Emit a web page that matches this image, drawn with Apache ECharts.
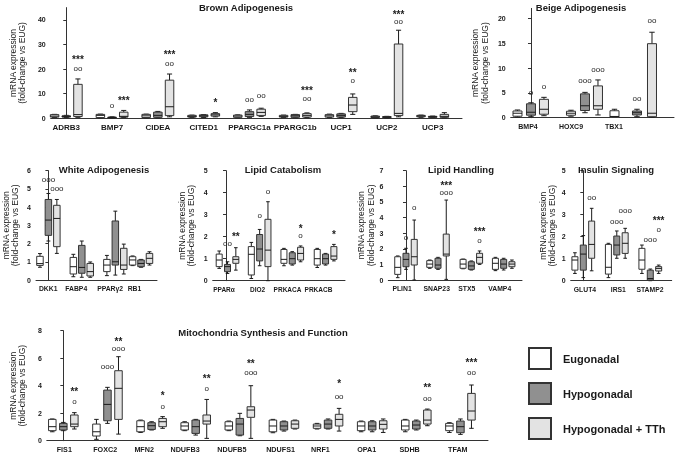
<!DOCTYPE html>
<html><head><meta charset="utf-8">
<script src="https://cdn.jsdelivr.net/npm/echarts@6/dist/echarts.min.js"></script>
<style>html,body{margin:0;padding:0;background:#fff}#c{width:676px;height:453px;filter:grayscale(100%)}</style>
</head><body><div id="c"></div>
<script>
// ---------------- DATA: [min, Q1, median, Q3, max] ----------------
const groupNames = ['Eugonadal', 'Hypogonadal', 'Hypogonadal + TTh'];

const brownCats = ['ADRB3','BMP7','CIDEA','CITED1','PPARGC1a','PPARGC1b','UCP1','UCP2','UCP3'];
const brownTicks = [0,10,20,30,40];
const brownEU = [[0.3,0.5,0.9,1.5,1.6],[0.2,0.3,1.2,1.6,1.7],[0.2,0.3,1.0,1.6,1.7],[0.3,0.5,0.8,1.2,1.3],[0.2,0.4,0.9,1.3,1.4],[0.3,0.5,0.8,1.2,1.3],[0.3,0.5,1.0,1.5,1.7],[0.2,0.3,0.6,0.9,1.0],[0.4,0.6,0.9,1.2,1.3]];
const brownHY = [[0.3,0.5,0.8,1.0,1.2],[0.1,0.2,0.3,0.5,0.6],[0.2,0.4,1.2,2.5,2.8],[0.3,0.6,1.0,1.4,1.5],[0.4,0.7,1.6,2.7,3.4],[0.2,0.4,1.0,1.5,1.6],[0.3,0.5,1.2,1.8,2.0],[0.2,0.3,0.5,0.7,0.8],[0.3,0.4,0.6,0.8,0.9]];
const brownTT = [[0.4,0.7,1.5,13.8,16.0],[0.3,0.5,0.8,2.5,3.2],[0.6,1.1,4.7,15.5,18.0],[0.6,0.9,1.4,1.9,2.3],[0.8,1.1,2.4,3.7,4.1],[0.3,0.5,1.2,1.9,2.2],[1.6,2.7,5.4,8.5,9.9],[0.6,1.1,2.0,30.2,35.8],[0.2,0.4,0.8,1.6,2.3]];
// [category, group, value, text]
const brownMarks = [[0,2,20,'oo'],[0,2,24.8,'***'],[1,1,5.0,'o'],[1,2,8.0,'***'],[2,2,22.1,'oo'],[2,2,26.7,'***'],[3,2,7.4,'*'],[4,1,7.4,'oo'],[4,2,9.2,'oo'],[5,2,8.0,'oo'],[5,2,12.2,'***'],[6,2,15.2,'o'],[6,2,19.4,'**'],[7,2,39.3,'oo'],[7,2,43.1,'***']];

const beigeCats = ['BMP4','HOXC9','TBX1'];
const beigeTicks = [0,5,10,15,20];
const beigeEU = [[0.15,0.3,0.9,1.35,1.55],[0.3,0.5,0.9,1.3,1.5],[0.05,0.1,0.25,1.4,1.7]];
const beigeHY = [[0.2,0.5,1.1,2.8,3.0],[1.0,1.45,2.4,4.8,5.1],[0.2,0.55,1.0,1.35,1.7]];
const beigeTT = [[0.4,0.7,1.7,3.7,4.1],[0.55,1.7,2.4,6.4,7.6],[0.1,0.2,0.9,14.9,17.2]];
const beigeMarks = [[0,1,5.0,'o'],[0,2,6.2,'o'],[1,1,7.4,'ooo'],[1,2,9.7,'ooo'],[2,1,3.8,'oo'],[2,2,19.4,'oo']];

const whiteCats = ['DKK1','FABP4','PPARγ2','RB1'];
const whiteTicks = [0,1,2,3,4,5,6];
const whiteEU = [[0.7,0.8,0.9,1.3,1.45],[0.18,0.33,0.73,1.24,1.41],[0.24,0.46,0.82,1.13,1.35],[0.79,0.82,1.1,1.28,1.32]];
const whiteHY = [[2.14,2.45,3.29,4.42,4.75],[0.15,0.37,0.69,1.9,2.14],[0.27,0.82,1.0,3.24,3.78],[0.7,0.73,0.91,1.1,1.13]];
const whiteTT = [[1.46,1.83,3.38,4.1,4.42],[0.15,0.22,0.46,0.91,0.99],[0.33,0.58,0.82,1.74,1.97],[0.82,0.91,1.19,1.46,1.55]];
const whiteMarks = [[0,1,5.5,'ooo'],[0,2,5.0,'ooo']];

const catabCats = ['PPARα','DIO2','PRKACA','PRKACB'];
const catabTicks = [0,1,2,3,4,5];
const catabEU = [[0.56,0.64,0.94,1.21,1.35],[0.1,0.26,1.2,1.55,1.74],[0.68,0.79,0.97,1.42,1.47],[0.6,0.71,1.0,1.42,1.47]];
const catabHY = [[0.33,0.41,0.64,0.74,0.86],[0.68,0.9,1.44,2.1,2.33],[0.71,0.76,1.0,1.27,1.32],[0.71,0.76,1.0,1.21,1.24]];
const catabTT = [[0.48,0.79,0.97,1.09,1.5],[0,0.64,1.39,2.79,3.59],[0.86,0.94,1.24,1.52,1.58],[0.9,0.97,1.12,1.55,1.65]];
const catabMarks = [[0,1,1.65,'oo'],[0,2,2.1,'**'],[1,1,2.94,'o'],[1,2,4.05,'o'],[2,2,2.03,'o'],[2,2,2.48,'*'],[3,2,2.18,'*']];

const handCats = ['PLIN1','SNAP23','STX5','VAMP4'];
const handTicks = [0,1,2,3,4,5,6,7];
const handEU = [[0.15,0.36,0.81,1.49,1.54],[0.75,0.81,1.02,1.24,1.28],[0.72,0.75,1.02,1.32,1.34],[0.6,0.68,1.07,1.39,1.45]];
const handHY = [[0.68,0.85,1.32,1.71,2.03],[0.68,0.75,0.96,1.39,1.45],[0.64,0.68,0.9,1.17,1.22],[0.64,0.75,1.02,1.32,1.39]];
const handTT = [[0,0.96,1.49,2.6,3.84],[0.04,1.54,1.66,2.94,5.12],[1.0,1.07,1.45,1.71,1.86],[0.75,0.85,1.02,1.17,1.28]];
const handMarks = [[0,1,2.67,'o'],[0,2,4.58,'o'],[1,2,5.59,'ooo'],[1,2,6.18,'***'],[2,2,2.52,'o'],[2,2,3.24,'***']];

const insCats = ['GLUT4','IRS1','STAMP2'];
const insTicks = [0,1,2,3,4,5];
const insEU = [[0.33,0.48,0.94,1.09,1.27],[0.14,0.3,0.61,1.65,1.7],[0.33,0.52,0.94,1.47,1.62]];
const insHY = [[0.14,0.48,1.21,1.62,2.05],[1.02,1.17,1.62,2.03,2.26],[0,0.03,0.1,0.48,0.53]];
const insTT = [[0.45,1.02,1.65,2.71,3.29],[1.02,1.24,1.7,2.18,2.38],[0.33,0.44,0.56,0.64,0.71]];
const insMarks = [[0,2,3.77,'oo'],[1,1,2.68,'ooo'],[1,2,3.17,'ooo'],[2,1,1.85,'ooo'],[2,2,2.3,'o'],[2,2,2.83,'***']];

const mitoCats = ['FIS1','FOXC2','MFN2','NDUFB3','NDUFB5','NDUFS1','NRF1','OPA1','SDHB','TFAM'];
const mitoTicks = [0,2,4,6,8];
const mitoEU = [[0.65,0.73,1.02,1.55,1.58],[0.1,0.34,0.65,1.21,1.55],[0.6,0.65,1.02,1.45,1.5],[0.73,0.78,1.07,1.31,1.38],[0.73,0.78,1.07,1.38,1.43],[0.58,0.65,1.07,1.5,1.55],[0.85,0.9,1.07,1.21,1.26],[0.65,0.73,1.07,1.38,1.43],[0.65,0.78,1.07,1.5,1.55],[0.6,0.73,1.07,1.26,1.31]];
const mitoHY = [[0.73,0.78,1.02,1.26,1.33],[1.26,1.45,2.64,3.68,3.88],[0.78,0.82,1.09,1.31,1.38],[0.41,0.53,1.02,1.5,1.55],[0.36,0.41,1.21,1.62,1.99],[0.7,0.78,1.07,1.38,1.43],[0.85,0.9,1.21,1.5,1.58],[0.65,0.78,1.07,1.38,1.45],[0.78,0.85,1.14,1.43,1.5],[0.46,0.58,1.02,1.43,1.58]];
const mitoTT = [[0.85,1.02,1.21,1.87,2.04],[0.48,1.55,3.81,5.09,6.11],[0.9,1.02,1.38,1.62,1.75],[0.17,1.21,1.43,1.87,3.0],[0.17,1.7,2.23,2.47,4.0],[0.85,0.9,1.21,1.45,1.5],[0.7,1.07,1.55,1.92,2.35],[0.6,0.85,1.19,1.45,1.58],[1.09,1.21,1.5,2.23,2.3],[0.9,1.5,2.16,3.44,4.05]];
const mitoMarks = [[0,2,2.84,'o'],[0,2,3.73,'**'],[1,1,5.38,'ooo'],[1,2,6.67,'ooo'],[1,2,7.39,'**'],[2,2,2.47,'o'],[2,2,3.44,'*'],[3,2,3.73,'o'],[3,2,4.65,'**'],[4,2,4.9,'ooo'],[4,2,5.75,'**'],[6,2,3.2,'oo'],[6,2,4.29,'*'],[8,2,3.03,'oo'],[8,2,4.0,'**'],[9,2,4.9,'oo'],[9,2,5.82,'***']];

// ---------------- PANELS ----------------
const panels = [
  {key:'brown', title:'Brown Adipogenesis', cats:brownCats, ticks:brownTicks, ymax:45, sets:[brownEU,brownHY,brownTT], marks:brownMarks},
  {key:'beige', title:'Beige Adipogenesis', cats:beigeCats, ticks:beigeTicks, ymax:22, sets:[beigeEU,beigeHY,beigeTT], marks:beigeMarks},
  {key:'white', title:'White Adipogenesis', cats:whiteCats, ticks:whiteTicks, ymax:6, sets:[whiteEU,whiteHY,whiteTT], marks:whiteMarks},
  {key:'catab', title:'Lipid Catabolism', cats:catabCats, ticks:catabTicks, ymax:5, sets:[catabEU,catabHY,catabTT], marks:catabMarks},
  {key:'hand', title:'Lipid Handling', cats:handCats, ticks:handTicks, ymax:7, sets:[handEU,handHY,handTT], marks:handMarks},
  {key:'ins', title:'Insulin Signaling', cats:insCats, ticks:insTicks, ymax:5, sets:[insEU,insHY,insTT], marks:insMarks},
  {key:'mito', title:'Mitochondria Synthesis and Function', cats:mitoCats, ticks:mitoTicks, ymax:8, sets:[mitoEU,mitoHY,mitoTT], marks:mitoMarks}
];

// ---------------- LAYOUT (positions in axis units / px) ----------------
const layout = {
  brown: {grid:{left:40, top:7.6, width:422, height:110.7}, xmin:-0.34, xmax:8.64, gx:[0,1,2,3,4,5,6,7,8], d:0.255, boxW:8.5, nameGap:20, title:[246,2], lf:8},
  beige: {grid:{left:510.7, top:8.4, width:163.3, height:109.3}, xmin:-0.472, xmax:3.326,
          bx:[[-0.314,0,0.302],[0.93,1.256,1.558],[1.942,2.465,2.814]], lx:[-0.07,0.93,1.93], boxW:9, nameGap:21, title:[581,2], lf:7},
  white: {grid:{left:35, top:170.7, width:122, height:109.3}, xmin:-0.379, xmax:3.318, gx:[0,1.02,2.045,2.83], d:0.258, lx:[-0.006,0.85,1.885,2.63], boxW:6.5, nameGap:16, title:[104,164], lf:6.8},
  catab: {grid:{left:212.7, top:170.7, width:132.3, height:110}, xmin:-0.4, xmax:3.574, gx:[0.045,1.01,1.99,2.99], d:0.25, lx:[-0.06,0.946,1.847,2.778], boxW:6, nameGap:16.7, title:[283,164], lf:6.5},
  hand:  {grid:{left:388.3, top:170.7, width:133.7, height:109.3}, xmin:-0.536, xmax:3.515, gx:[0,0.97,1.98,2.96], d:0.25, lx:[-0.12,0.93,1.84,2.84], boxW:6, nameGap:13, title:[461,164], lf:6.8},
  ins:   {grid:{left:570.7, top:170.7, width:101, height:110}, xmin:-0.376, xmax:2.639, gx:[0,1,2], d:0.25, lx:[0.05,1.045,1.99], boxW:6, nameGap:13.7, title:[616,164], lf:6.8},
  mito:  {grid:{left:35, top:330.7, width:453, height:110}, xmin:-0.375, xmax:9.625, gx:[0,1,2,3,4,5,6,7,8,9], d:0.25,
          lx:[0.022,0.949,1.832,2.759,3.819,4.923,5.828,6.876,7.848,8.94], boxW:7.5, nameGap:16, title:[263,327], lf:7.2}
};

const FONT = '"Liberation Sans", Arial, Helvetica, sans-serif';
const FILLS = ['#ffffff', '#909090', '#e3e3e3'];
const INK = '#1a1a1a';

function boxX(lay, i, g) {
  if (lay.bx) return lay.bx[i][g];
  return lay.gx[i] + (g - 1) * lay.d;
}
function nearest(arr, v) {
  let bi = 0, bd = Infinity;
  arr.forEach((a, i) => { const dd = Math.abs(a - v); if (dd < bd) { bd = dd; bi = i; } });
  return bi;
}
function makeBox(fill, w) {
  return function (params, api) {
    const x = api.value(0);
    const c = k => api.coord([x, api.value(k)]);
    const pMin = c(1), pQ1 = c(2), pMed = c(3), pQ3 = c(4), pMax = c(5);
    const cx = pMin[0], hw = w / 2, cw = w * 0.3;
    const ls = {stroke: INK, lineWidth: 1, fill: null};
    return {type: 'group', children: [
      {type: 'line', shape: {x1: cx, y1: pMax[1], x2: cx, y2: pQ3[1]}, style: ls},
      {type: 'line', shape: {x1: cx - cw, y1: pMax[1], x2: cx + cw, y2: pMax[1]}, style: ls},
      {type: 'line', shape: {x1: cx, y1: pQ1[1], x2: cx, y2: pMin[1]}, style: ls},
      {type: 'line', shape: {x1: cx - cw, y1: pMin[1], x2: cx + cw, y2: pMin[1]}, style: ls},
      {type: 'rect', shape: {x: cx - hw, y: pQ3[1], width: w, height: Math.max(pQ1[1] - pQ3[1], 0.5)}, style: {fill: fill, stroke: '#333', lineWidth: 1}},
      {type: 'line', shape: {x1: cx - hw, y1: pMed[1], x2: cx + hw, y2: pMed[1]}, style: ls}
    ]};
  };
}
function makeMark(marks) {
  return function (params, api) {
    const m = marks[params.dataIndex];
    const pt = api.coord([api.value(0), api.value(1)]);
    const star = m[3].indexOf('*') >= 0;
    return {type: 'text', x: pt[0], y: pt[1] + (star ? 2.2 : -0.5), style: {
      text: m[3], textAlign: 'center', textVerticalAlign: 'middle',
      font: star ? 'bold 10px ' + FONT : '8px ' + FONT, fill: '#222'}};
  };
}

const grids = [], xAxes = [], yAxes = [], series = [], titles = [];
panels.forEach((p, k) => {
  const lay = layout[p.key];
  grids.push(Object.assign({containLabel: false}, lay.grid));
  const lx = lay.lx || lay.gx;
  xAxes.push({gridIndex: k, type: 'value', min: lay.xmin, max: lay.xmax,
    axisLine: {show: true, onZero: false, lineStyle: {color: '#333', width: 1}},
    axisTick: {show: false}, splitLine: {show: false},
    axisLabel: {customValues: lx, formatter: v => p.cats[nearest(lx, v)], margin: 5,
      showMinLabel: true, showMaxLabel: true, hideOverlap: false,
      fontSize: lay.lf, fontWeight: 'bold', color: INK, fontFamily: FONT}});
  yAxes.push({gridIndex: k, type: 'value', min: 0, max: p.ymax,
    name: 'mRNA expression\n(fold-change vs EUG)', nameLocation: 'middle', nameRotate: 90, nameGap: lay.nameGap,
    nameTextStyle: {fontSize: 8.5, lineHeight: 9.5, color: INK, fontFamily: FONT},
    axisLine: {show: true, lineStyle: {color: '#333', width: 1}},
    axisTick: {show: true, length: 3, customValues: p.ticks, lineStyle: {color: '#333'}},
    axisLabel: {customValues: p.ticks, margin: 5, fontSize: 7, fontWeight: 'bold', color: INK, fontFamily: FONT,
      showMinLabel: true, showMaxLabel: true},
    splitLine: {show: false}});
  p.sets.forEach((arr, g) => {
    series.push({type: 'custom', name: groupNames[g], xAxisIndex: k, yAxisIndex: k, clip: false,
      itemStyle: {color: FILLS[g]}, encode: {x: 0, y: [1, 2, 3, 4, 5]},
      data: arr.map((v, i) => [boxX(lay, i, g)].concat(v)),
      renderItem: makeBox(FILLS[g], lay.boxW)});
  });
  series.push({type: 'custom', xAxisIndex: k, yAxisIndex: k, clip: false, silent: true,
    itemStyle: {color: '#222'}, encode: {x: 0, y: 1},
    data: p.marks.map(m => [boxX(lay, m[0], m[1]), m[2]]),
    renderItem: makeMark(p.marks)});
  titles.push({text: p.title, left: lay.title[0], top: lay.title[1], textAlign: 'center', padding: 0,
    textStyle: {fontSize: 9.5, fontWeight: 'bold', color: INK, fontFamily: FONT}});
});

const chart = echarts.init(document.getElementById('c'), null, {renderer: 'svg'});
chart.setOption({
  animation: false,
  backgroundColor: '#ffffff',
  title: titles,
  legend: {data: groupNames, orient: 'vertical', left: 528, top: 347, padding: 0,
    itemWidth: 22, itemHeight: 21, itemGap: 12, icon: 'rect', selectedMode: false,
    itemStyle: {borderColor: '#333', borderWidth: 2},
    textStyle: {fontSize: 11, fontWeight: 'bold', color: INK, fontFamily: FONT, padding: [0, 0, 0, 7]}},
  grid: grids, xAxis: xAxes, yAxis: yAxes, series: series
});
</script></body></html>
